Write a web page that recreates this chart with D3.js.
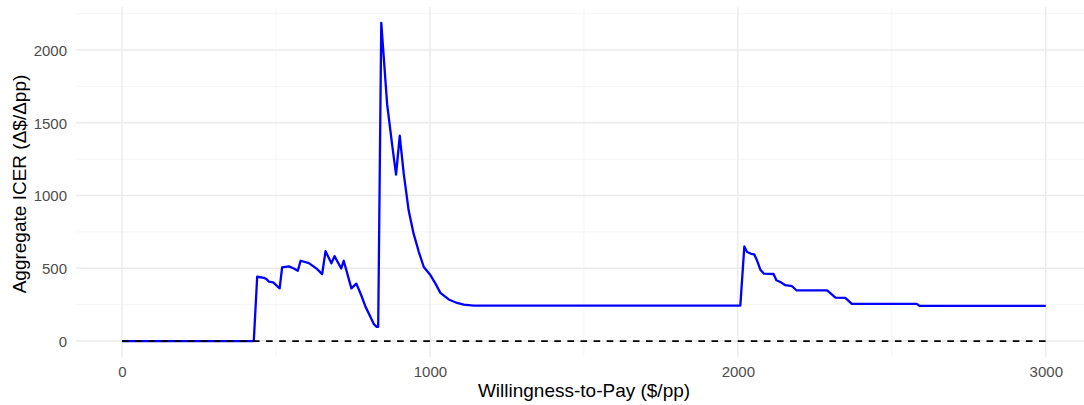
<!DOCTYPE html>
<html>
<head>
<meta charset="utf-8">
<script src="https://cdn.jsdelivr.net/npm/d3@7/dist/d3.min.js"></script>
<style>
  html, body { margin: 0; padding: 0; background: #ffffff; }
  svg { display: block; font-family: "Liberation Sans", Arial, Helvetica, sans-serif; }
</style>
</head>
<body>
<svg id="chart" width="1084" height="405"></svg>
<script>
// Willingness-to-pay ($/pp)
const wtp = [0, 428, 439, 461, 470, 477, 491, 512, 520, 542, 558, 571, 580, 607, 634, 650, 661, 680, 690, 712, 720, 745, 761, 777, 791, 807, 818, 827, 832,
  842, 861, 877, 890, 902, 915, 931, 947, 964, 980, 1002, 1018, 1034, 1061, 1088, 1110, 1142,
  2008, 2021, 2030, 2043, 2053, 2062, 2073, 2084, 2116, 2125, 2138, 2154, 2176, 2190, 2290, 2317, 2349, 2370, 2581, 2590, 3000];
// Aggregate ICER (Δ$/Δpp)
const icer = [0, 0, 442, 435, 425, 408, 403, 362, 506, 513, 499, 483, 552, 536, 494, 460, 618, 534, 584, 499, 552, 362, 395, 315, 235, 166, 116, 98, 98,
  2187, 1628, 1354, 1144, 1411, 1149, 897, 738, 612, 509, 452, 395, 331, 286, 262, 251, 244,
  244, 650, 612, 600, 596, 555, 491, 464, 461, 418, 406, 384, 377, 349, 349, 299, 297, 256, 256, 242, 242];
// Reference line at zero
const refX = [0, 3000];
const refY = [0, 0];
// Ticks
const xTicks = [0, 1000, 2000, 3000];
const xMinor = [500, 1500, 2500];
const yTicks = [0, 500, 1000, 1500, 2000];
const yMinor = [250, 750, 1250, 1750, 2250];

const svg = d3.select("#chart");
const panel = { left: 76, right: 1092, top: 7, bottom: 357 };

const x = d3.scaleLinear().domain([-150, 3150]).range([panel.left - 0.2, panel.right]);
const y = d3.scaleLinear().domain([-109.5, 2296]).range([panel.bottom, panel.top]);

const grid = svg.append("g");
xMinor.forEach(v => grid.append("line")
  .attr("x1", x(v)).attr("x2", x(v)).attr("y1", panel.top).attr("y2", panel.bottom)
  .attr("stroke", "#f2f2f2").attr("stroke-width", 0.8));
yMinor.forEach(v => grid.append("line")
  .attr("y1", y(v)).attr("y2", y(v)).attr("x1", panel.left).attr("x2", panel.right)
  .attr("stroke", "#f2f2f2").attr("stroke-width", 0.8));
xTicks.forEach(v => grid.append("line")
  .attr("x1", x(v)).attr("x2", x(v)).attr("y1", panel.top).attr("y2", panel.bottom)
  .attr("stroke", "#ebebeb").attr("stroke-width", 1.4));
yTicks.forEach(v => grid.append("line")
  .attr("y1", y(v)).attr("y2", y(v)).attr("x1", panel.left).attr("x2", panel.right)
  .attr("stroke", "#ebebeb").attr("stroke-width", 1.4));

// Axes (labels only)
const xAxis = svg.append("g")
  .attr("transform", `translate(0,${panel.bottom})`)
  .call(d3.axisBottom(x).tickValues(xTicks).tickSize(0).tickPadding(9).tickFormat(d3.format("d")));
const yAxis = svg.append("g")
  .attr("transform", `translate(${panel.left},0)`)
  .call(d3.axisLeft(y).tickValues(yTicks).tickSize(0).tickPadding(9).tickFormat(d3.format("d")));
[xAxis, yAxis].forEach(a => {
  a.select(".domain").remove();
  a.selectAll("text").attr("fill", "#4d4d4d").style("font-size", "15px")
    .style("font-family", "'Liberation Sans', Arial, sans-serif");
});
yAxis.selectAll("text").attr("dy", "0.36em");

// Data line
const pts = wtp.map((d, i) => [d, icer[i]]);
svg.append("path")
  .datum(pts)
  .attr("fill", "none")
  .attr("stroke", "#0000ff")
  .attr("stroke-width", 2.3)
  .attr("stroke-linejoin", "round")
  .attr("d", d3.line().x(d => x(d[0])).y(d => y(d[1])));

// Dashed zero line
svg.append("path")
  .datum(refX.map((d, i) => [d, refY[i]]))
  .attr("fill", "none")
  .attr("stroke", "#000000")
  .attr("stroke-width", 1.7)
  .attr("stroke-dasharray", "6.6,6.5")
  .attr("d", d3.line().x(d => x(d[0])).y(d => y(d[1])));

// Axis titles
svg.append("text")
  .attr("x", (panel.left + panel.right) / 2)
  .attr("y", 396.7)
  .attr("text-anchor", "middle")
  .attr("fill", "#000000")
  .style("font-size", "19px")
  .text("Willingness-to-Pay ($/pp)");

svg.append("text")
  .attr("transform", `translate(25.5,${(panel.top + panel.bottom) / 2 + 2}) rotate(-90)`)
  .attr("text-anchor", "middle")
  .attr("fill", "#000000")
  .style("font-size", "19px")
  .text("Aggregate ICER (Δ$/Δpp)");
</script>
</body>
</html>
